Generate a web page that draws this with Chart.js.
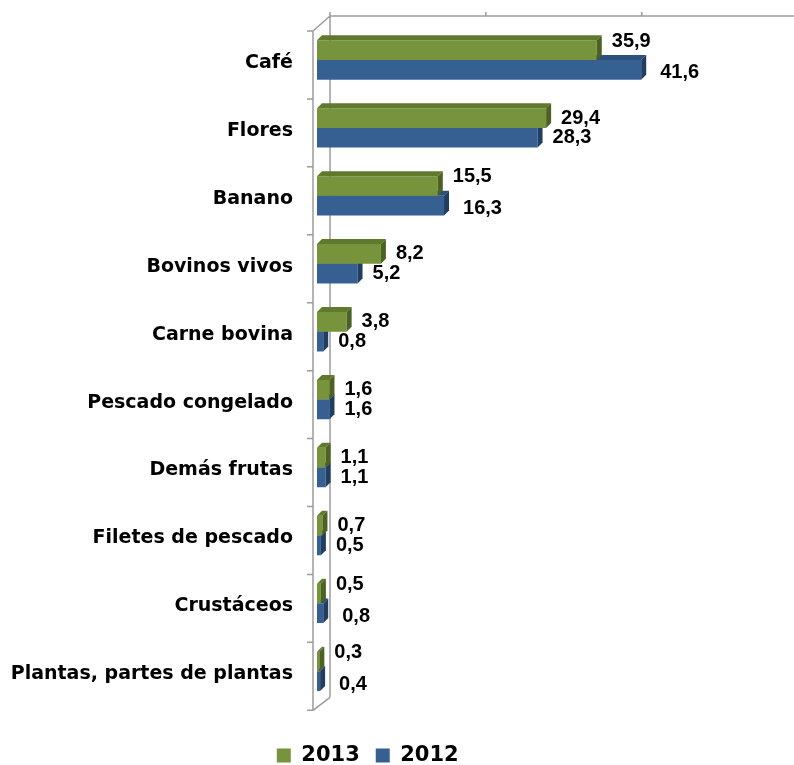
<!DOCTYPE html>
<html>
<head>
<meta charset="utf-8">
<script src="https://cdn.jsdelivr.net/npm/chart.js@4.4.0/dist/chart.umd.min.js"></script>
<style>
  body { margin: 0; background: #fff; }
</style>
</head>
<body>
<canvas id="myChart" width="794" height="765"></canvas>
<script>
const categories = [
  "Café",
  "Flores",
  "Banano",
  "Bovinos vivos",
  "Carne bovina",
  "Pescado congelado",
  "Demás frutas",
  "Filetes de pescado",
  "Crustáceos",
  "Plantas, partes de plantas",
];
const values2013 = [35.9, 29.4, 15.5, 8.2, 3.8, 1.6, 1.1, 0.7, 0.5, 0.3];
const values2012 = [41.6, 28.3, 16.3, 5.2, 0.8, 1.6, 1.1, 0.5, 0.8, 0.4];
const xTicks = [0, 20, 40]; // marks on the top axis line (no labels shown)

const GREEN = { front: "#77933C", top: "#5F7A2D", side: "#4B6223" };
const BLUE = { front: "#376092", top: "#2C4F7B", side: "#213D60" };
const DEPTH = 5; // 3d depth of the bars
const WIDE_FONT = "'DejaVu Sans', sans-serif";

const fmt = (v) => v.toFixed(1).replace(".", ",");

// gray 3d wall + top axis line
const framePlugin = {
  id: "frame",
  beforeDatasetsDraw(chart) {
    const { ctx, chartArea } = chart;
    const xs = chart.scales.x;
    const fx = chartArea.left - 4;
    const ftop = chartArea.top + 5;
    const fbot = chartArea.bottom + 5;
    const bx = chartArea.left + 13;
    const btop = chartArea.top - 10;
    const bbot = chartArea.bottom - 8;
    ctx.save();
    ctx.strokeStyle = "#9c9c9c";
    ctx.lineWidth = 1.5;
    ctx.beginPath();
    ctx.moveTo(bx, btop); ctx.lineTo(chart.width, btop);
    ctx.moveTo(bx, btop); ctx.lineTo(bx, bbot);
    ctx.moveTo(fx, ftop); ctx.lineTo(fx, fbot);
    ctx.moveTo(fx, ftop); ctx.lineTo(bx, btop);
    ctx.moveTo(fx, fbot); ctx.lineTo(bx, bbot);
    xTicks.forEach((t) => {
      const px = xs.getPixelForValue(t) + 13;
      ctx.moveTo(px, btop - 4); ctx.lineTo(px, btop);
    });
    const h = (chartArea.bottom - chartArea.top) / categories.length;
    for (let k = 0; k <= categories.length; k++) {
      const y = ftop + k * h;
      ctx.moveTo(fx - 6, y); ctx.lineTo(fx, y);
    }
    ctx.stroke();
    ctx.restore();
  },
};

// top and side faces of every bar
const bars3dPlugin = {
  id: "bars3d",
  afterDatasetDraw(chart, args) {
    const ctx = chart.ctx;
    const col = args.index === 0 ? GREEN : BLUE;
    args.meta.data.forEach((bar) => {
      const { x, y, base, height } = bar.getProps(["x", "y", "base", "height"], true);
      const top = y - height / 2;
      const bottom = y + height / 2;
      ctx.save();
      ctx.fillStyle = col.top;
      ctx.beginPath();
      ctx.moveTo(base, top);
      ctx.lineTo(base + DEPTH, top - DEPTH);
      ctx.lineTo(x + DEPTH, top - DEPTH);
      ctx.lineTo(x, top);
      ctx.closePath();
      ctx.fill();
      ctx.fillStyle = col.side;
      ctx.beginPath();
      ctx.moveTo(x, top);
      ctx.lineTo(x + DEPTH, top - DEPTH);
      ctx.lineTo(x + DEPTH, bottom - DEPTH);
      ctx.lineTo(x, bottom);
      ctx.closePath();
      ctx.fill();
      ctx.restore();
    });
  },
};

// value labels
const labelsPlugin = {
  id: "valueLabels",
  afterDatasetsDraw(chart) {
    const ctx = chart.ctx;
    ctx.save();
    ctx.font = "bold 20px 'Liberation Sans', Arial, sans-serif";
    ctx.fillStyle = "#000";
    ctx.textAlign = "left";
    ctx.textBaseline = "middle";
    const greenBars = chart.getDatasetMeta(0).data;
    const blueBars = chart.getDatasetMeta(1).data;
    categories.forEach((c, i) => {
      // when the lower bar is the longer one the labels move apart
      const pushed = values2012[i] > values2013[i];
      const g = greenBars[i];
      const b = blueBars[i];
      ctx.fillText(fmt(values2013[i]), g.x + 15, g.y + (pushed ? -9 : 0));
      ctx.fillText(fmt(values2012[i]), b.x + (pushed ? 19 : 15), b.y + (pushed ? 3 : 0));
    });
    ctx.restore();
  },
};

const ctx = document.getElementById("myChart").getContext("2d");
new Chart(ctx, {
  type: "bar",
  data: {
    labels: categories,
    datasets: [
      {
        label: "2013",
        data: values2013,
        backgroundColor: GREEN.front,
        borderWidth: 0,
        categoryPercentage: 0.58,
        barPercentage: 1.0,
      },
      {
        label: "2012",
        data: values2012,
        backgroundColor: BLUE.front,
        borderWidth: 0,
        categoryPercentage: 0.58,
        barPercentage: 1.0,
      },
    ],
  },
  options: {
    indexAxis: "y",
    responsive: false,
    animation: false,
    layout: {
      padding: { top: 26, right: 58.5, bottom: -11, left: 0 },
    },
    scales: {
      x: {
        display: false,
        min: 0,
        max: 53.7,
        ticks: { stepSize: 20 },
      },
      y: {
        grid: { display: false, drawTicks: false },
        border: { display: false },
        ticks: {
          autoSkip: false,
          padding: 24,
          labelOffset: 3,
          color: "#000",
          font: { family: WIDE_FONT, size: 19, weight: "bold" },
        },
        afterFit: (scale) => {
          scale.width = 317;
          scale.paddingTop = 0;
          scale.paddingBottom = 0;
        },
      },
    },
    plugins: {
      tooltip: { enabled: false },
      legend: {
        position: "bottom",
        title: { display: true, text: "", font: { size: 1 }, padding: { top: 0, bottom: 22.5 } },
        labels: {
          boxWidth: 14,
          boxHeight: 14,
          padding: 16,
          color: "#000",
          font: { family: WIDE_FONT, size: 21, weight: "bold" },
        },
      },
    },
  },
  plugins: [framePlugin, bars3dPlugin, labelsPlugin],
});
</script>
</body>
</html>
